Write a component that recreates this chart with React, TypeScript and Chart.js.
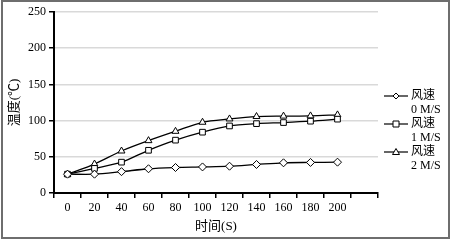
import React, { useEffect, useRef } from "react";
import { Chart, registerables } from "chart.js";

Chart.register(...registerables);

const categories = ["0", "20", "40", "60", "80", "100", "120", "140", "160", "180", "200", ""];
const seriesNames = ["风速\n0 M/S", "风速\n1 M/S", "风速\n2 M/S"];
const wind0 = [26, 26, 29.5, 33.5, 35.2, 36, 37, 39.4, 41.7, 42.2, 42.6];
const wind1 = [26, 34, 42.6, 59, 73, 84, 92.6, 95.8, 97.3, 99.2, 102];
const wind2 = [26, 40, 58, 72.3, 85.2, 97.7, 102.3, 105.6, 106.2, 106.5, 107.9];
const pointStyles = ["rectRot", "rect", "triangle"];
const yTicks = [0, 50, 100, 150, 200, 250];

const FONT = "'Liberation Serif', 'Noto Sans CJK SC', serif";

const overlay = {
  id: "overlay",
  afterDraw(chart: any) {
    const ctx = chart.ctx;
    const ca = chart.chartArea;
    ctx.save();
    // frame
    ctx.strokeStyle = "#6e6e6e";
    ctx.lineWidth = 2;
    ctx.strokeRect(2, 1, 447, 237);
    // axis titles
    ctx.fillStyle = "#000";
    ctx.font = `13px ${FONT}`;
    ctx.textAlign = "center";
    ctx.textBaseline = "middle";
    ctx.fillText("时间(S)", (ca.left + ca.right) / 2, 227);
    ctx.save();
    ctx.translate(15, (ca.top + ca.bottom) / 2);
    ctx.rotate(-Math.PI / 2);
    ctx.fillText("温度(℃)", 0, 0);
    ctx.restore();
    // legend
    const lx = 384;
    chart.data.datasets.forEach((ds: any, i: number) => {
      const y = 96 + i * 28;
      ctx.strokeStyle = "#000";
      ctx.lineWidth = 1.2;
      ctx.beginPath();
      ctx.moveTo(lx, y);
      ctx.lineTo(lx + 24, y);
      ctx.stroke();
      ctx.fillStyle = "#fff";
      ctx.lineWidth = 1;
      const r = 3;
      const cx = lx + 12;
      ctx.beginPath();
      if (ds.pointStyle === "rectRot") {
        ctx.moveTo(cx, y - r);
        ctx.lineTo(cx + r, y);
        ctx.lineTo(cx, y + r);
        ctx.lineTo(cx - r, y);
        ctx.closePath();
      } else if (ds.pointStyle === "rect") {
        ctx.rect(cx - r, y - r, 2 * r, 2 * r);
      } else {
        ctx.moveTo(cx, y - r - 0.5);
        ctx.lineTo(cx + r + 0.5, y + r - 0.5);
        ctx.lineTo(cx - r - 0.5, y + r - 0.5);
        ctx.closePath();
      }
      ctx.fill();
      ctx.stroke();
      ctx.fillStyle = "#000";
      ctx.font = `12px ${FONT}`;
      ctx.textAlign = "left";
      const lines = String(ds.label).split("\n");
      lines.forEach((t: string, j: number) => ctx.fillText(t, lx + 27, y + j * 13.5));
    });
    ctx.restore();
  },
};

export default function App() {
  const ref = useRef<HTMLCanvasElement>(null);
  useEffect(() => {
    document.body.style.margin = "0";
    const mk = (label: string, data: number[], ps: string) => ({
      label,
      data,
      borderColor: "#000",
      backgroundColor: "#fff",
      borderWidth: 1.3,
      pointStyle: ps,
      pointRadius: 4,
      pointBorderWidth: 1,
      pointBackgroundColor: "#fff",
      pointBorderColor: "#000",
      tension: 0.3,
    });
    const chart = new Chart(ref.current!, {
      type: "line",
      data: {
        labels: categories,
        datasets: [
          mk(seriesNames[0], wind0, pointStyles[0]),
          mk(seriesNames[1], wind1, pointStyles[1]),
          mk(seriesNames[2], wind2, pointStyles[2]),
        ],
      },
      plugins: [overlay],
      options: {
        animation: false,
        responsive: false,
        devicePixelRatio: 1,
        layout: { padding: { top: 12, right: 74, left: 0, bottom: 0 } },
        plugins: { legend: { display: false }, tooltip: { enabled: false } },
        scales: {
          x: {
            type: "category",
            offset: true,
            grid: { offset: true, drawOnChartArea: false, drawTicks: true, tickLength: 5, tickColor: "#000", lineWidth: 1.5 },
            border: { color: "#000", width: 2 },
            ticks: { color: "#000", font: { family: FONT, size: 12 }, padding: 3, maxRotation: 0, autoSkip: false },
            afterFit: (s: any) => { s.height = 47; },
          },
          y: {
            min: 0,
            max: 250,
            afterBuildTicks: (s: any) => { s.ticks = yTicks.map((v) => ({ value: v })); },
            grid: { color: "#d9d9d9", lineWidth: 1.5, tickColor: "#000", tickLength: 5 },
            border: { color: "#000", width: 2 },
            ticks: { color: "#000", font: { family: FONT, size: 12 }, padding: 3 },
            afterFit: (s: any) => { s.width = 54; },
          },
        },
      },
    });
    return () => chart.destroy();
  }, []);
  return <canvas ref={ref} width={452} height={240} style={{ display: "block" }} />;
}
